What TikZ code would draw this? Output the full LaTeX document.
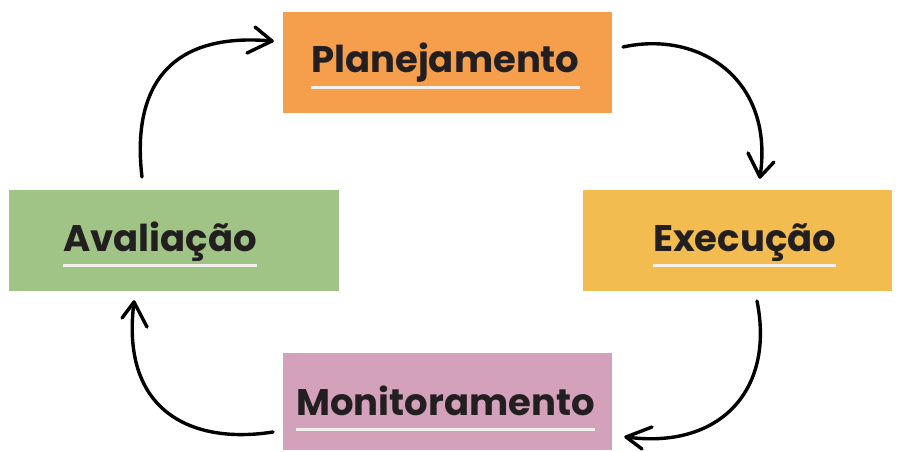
\documentclass[tikz,border=0pt]{standalone}
\usepackage{fontspec}
\setmainfont{Poppins}
\begin{document}
\begin{tikzpicture}[x=1pt,y=-1pt,
  box/.style={fill=#1, draw=none, inner sep=0pt},
  lbl/.style={anchor=base west, inner sep=0pt, text=txtc, font=\fontsize{37}{37}\selectfont\bfseries},
  uline/.style={draw=ulc, line width=3pt},
  brush/.style={line width=3.4pt, line cap=round, line join=round, black},
]
\definecolor{orangec}{HTML}{F59F4D}
\definecolor{yellowc}{HTML}{F2BC51}
\definecolor{greenc}{HTML}{9FC486}
\definecolor{pinkc}{HTML}{D4A1BB}
\definecolor{txtc}{HTML}{231F20}
\definecolor{ulc}{HTML}{F3F1EC}
\useasboundingbox[fill=white] (0,0) rectangle (907,452);
% boxes
\path[box=orangec] (283,12) rectangle (612,113);
\path[box=yellowc] (583,190) rectangle (892,291);
\path[box=greenc] (9,190) rectangle (339,291);
\path[box=pinkc] (283,353) rectangle (612,450);
% labels
\node[lbl] (plan) at (311,73) {Planejamento};
\node[lbl] (exec) at (653,251) {Execução};
\node[lbl] (aval) at (63,251) {Avaliação};
\node[lbl] (moni) at (296,415) {Monitoramento};
\draw[uline] ([yshift=-14pt]plan.base west) -- ([yshift=-14pt]plan.base east);
\draw[uline] ([yshift=-14pt]exec.base west) -- ([yshift=-14pt]exec.base east);
\draw[uline] ([yshift=-14pt]aval.base west) -- ([yshift=-14pt]aval.base east);
\draw[uline] ([yshift=-14pt]moni.base west) -- ([yshift=-14pt]moni.base east);
% arrow coordinates
\coordinate (a1s) at (142,177);
\coordinate (a1t) at (272,41);
\coordinate (a2s) at (623,47);
\coordinate (a2t) at (760,177);
\coordinate (a3s) at (757,301);
\coordinate (a3t) at (626,437);
\coordinate (a4s) at (273,432);
\coordinate (a4t) at (134,302);
% Avaliacao -> Planejamento
\draw[brush] (a1s) .. controls (134,110) and (150,30) .. (a1t);
\draw[brush] (255,27) -- (a1t) -- (247,53);
% Planejamento -> Execucao
\draw[brush] (a2s) .. controls (700,30) and (775,80) .. (a2t);
\draw[brush] (748,153) -- (a2t) -- (774,162);
% Execucao -> Monitoramento
\draw[brush] (a3s) .. controls (775,390) and (720,450) .. (a3t);
\draw[brush] (652,427) -- (a3t) -- (642,449);
% Monitoramento -> Avaliacao
\draw[brush] (a4s) .. controls (190,445) and (120,410) .. (a4t);
\draw[brush] (122,318) -- (a4t) -- (147,327);
\end{tikzpicture}
\end{document}
